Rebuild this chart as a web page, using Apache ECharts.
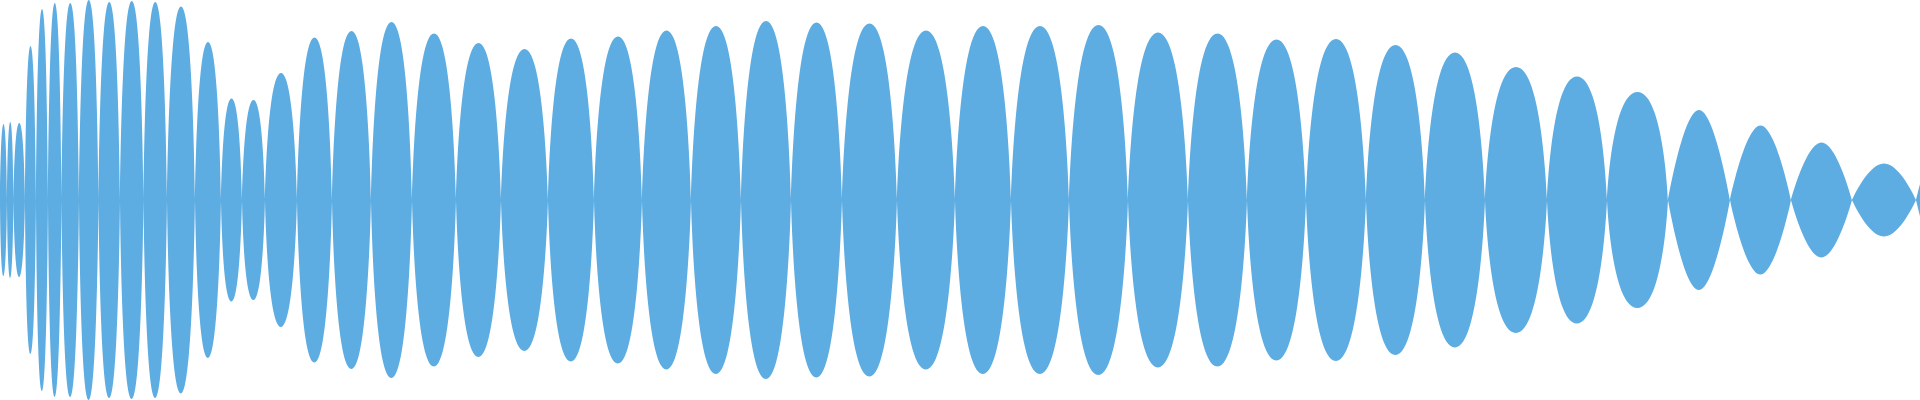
<!DOCTYPE html>
<html>
<head>
<meta charset="utf-8">
<script src="https://cdn.jsdelivr.net/npm/echarts@6/dist/echarts.min.js"></script>
<style>
html,body{margin:0;padding:0;background:#ffffff;}
#chart{width:1920px;height:400px;}
</style>
</head>
<body>
<div id="chart"></div>
<script>
// zero crossings of the waveform (sample position)
const crossings = [0, 7, 13.5, 25, 36, 48, 61.5, 79, 98.5, 120, 143.5, 167, 195, 221, 242, 265, 297, 332, 371, 412, 456, 501, 548, 594, 642, 691, 741, 791, 842, 897, 955, 1011, 1069, 1128, 1188, 1247, 1306, 1366, 1425, 1485, 1547, 1607, 1668, 1730, 1791, 1852, 1916];
// peak amplitude of each lobe between consecutive crossings
const peaks = [76, 78, 77, 154, 191, 197, 197, 200, 198, 199, 198, 193.5, 158, 101.5, 100, 127, 162.5, 169, 178, 166.5, 157, 151, 161.5, 163.5, 169.5, 174, 179, 177.5, 176.5, 169.5, 174, 174, 175, 167.5, 166.5, 160.5, 161, 155, 147.5, 133, 123.5, 108, 90, 74.5, 57.5, 36.5];
// last partial sample at the right edge
const edgeX = [1920];
const edgeValue = [16];
// the decaying tail (from this lobe on) has sharper, sine-like lobes
const tailFrom = 42;

function build(sign, from, to, withEdge) {
  const out = [];
  for (let i = from; i < to; i++) {
    const a = crossings[i], b = crossings[i + 1];
    out.push([a, 0]);
    out.push([(a + b) / 2, sign * peaks[i]]);
    out.push([b, 0]);
    out.push([b, '-']);
  }
  if (withEdge) {
    out.push([crossings[crossings.length - 1], 0]);
    out.push([edgeX[0], sign * edgeValue[0]]);
  }
  return out;
}

const color = '#5DADE2';
const chart = echarts.init(document.getElementById('chart'), null, {renderer: 'canvas'});
const mk = (data, smooth) => ({
  type: 'line',
  data: data,
  smooth: smooth,
  showSymbol: false,
  symbol: 'none',
  connectNulls: false,
  lineStyle: {width: 0, color: color},
  itemStyle: {color: color},
  areaStyle: {color: color, opacity: 1},
  silent: true
});
chart.setOption({
  animation: false,
  backgroundColor: '#ffffff',
  grid: {left: 0, right: 0, top: 0, bottom: 0},
  xAxis: {type: 'value', min: 0, max: 1920, show: false},
  yAxis: {type: 'value', min: -200, max: 200, show: false},
  series: [
    mk(build(1, 0, tailFrom, false), 0.85),
    mk(build(-1, 0, tailFrom, false), 0.85),
    mk(build(1, tailFrom, peaks.length, true), 0.5),
    mk(build(-1, tailFrom, peaks.length, true), 0.5)
  ]
});
</script>
</body>
</html>
